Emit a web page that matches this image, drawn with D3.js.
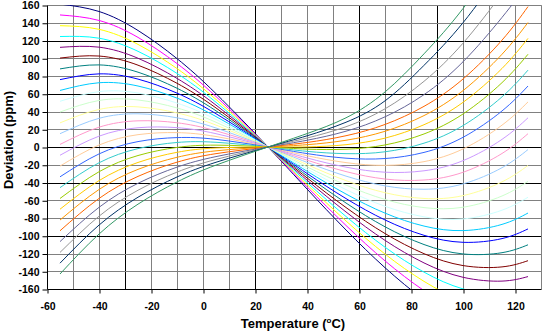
<!DOCTYPE html>
<html>
<head>
<meta charset="utf-8">
<script src="https://cdn.jsdelivr.net/npm/d3@7"></script>
<style>
  html, body { margin: 0; padding: 0; background: #ffffff; }
  svg { display: block; }
  text { font-family: "Liberation Sans", Arial, sans-serif; }
</style>
</head>
<body>
<svg id="chart" width="546" height="333"></svg>
<script>
// ---- data ----
const temperatures = [-55, -40, -25, -10, 5, 25, 40, 55, 70, 85, 100, 115, 125];

const series01 = [161.0, 152.7, 131.3, 99.6, 60.1, 0, -47.3, -93.5, -136.0, -172.1, -199.3, -214.9, -217.6];
const series02 = [148.8, 142.6, 123.5, 94.0, 56.9, 0, -44.8, -88.4, -128.3, -161.8, -186.2, -199.0, -199.7];
const series03 = [136.7, 132.6, 115.6, 88.4, 53.6, 0, -42.3, -83.3, -120.6, -151.4, -173.1, -183.0, -181.8];
const series04 = [124.5, 122.6, 107.8, 82.9, 50.4, 0, -39.8, -78.3, -112.9, -141.0, -159.9, -167.0, -163.9];
const series05 = [112.3, 112.5, 100.0, 77.3, 47.2, 0, -37.3, -73.2, -105.2, -130.6, -146.8, -151.1, -146.0];
const series06 = [100.2, 102.5, 92.2, 71.8, 44.0, 0, -34.8, -68.2, -97.5, -120.2, -133.6, -135.1, -128.1];
const series07 = [88.0, 92.5, 84.3, 66.2, 40.8, 0, -32.3, -63.1, -89.9, -109.9, -120.5, -119.1, -110.2];
const series08 = [75.9, 82.4, 76.5, 60.7, 37.5, 0, -29.8, -58.1, -82.2, -99.5, -107.4, -103.2, -92.3];
const series09 = [63.7, 72.4, 68.7, 55.1, 34.3, 0, -27.3, -53.0, -74.5, -89.1, -94.2, -87.2, -74.4];
const series10 = [51.5, 62.4, 60.8, 49.5, 31.1, 0, -24.8, -48.0, -66.8, -78.7, -81.1, -71.2, -56.6];
const series11 = [39.4, 52.4, 53.0, 44.0, 27.9, 0, -22.3, -42.9, -59.1, -68.3, -67.9, -55.2, -38.7];
const series12 = [27.2, 42.3, 45.2, 38.4, 24.7, 0, -19.8, -37.9, -51.5, -58.0, -54.8, -39.3, -20.8];
const series13 = [15.0, 32.3, 37.4, 32.9, 21.4, 0, -17.3, -32.8, -43.8, -47.6, -41.6, -23.3, -2.9];
const series14 = [2.9, 22.3, 29.5, 27.3, 18.2, 0, -14.8, -27.7, -36.1, -37.2, -28.5, -7.3, 15.0];
const series15 = [-9.3, 12.2, 21.7, 21.8, 15.0, 0, -12.3, -22.7, -28.4, -26.8, -15.4, 8.6, 32.9];
const series16 = [-21.5, 2.2, 13.9, 16.2, 11.8, 0, -9.8, -17.6, -20.7, -16.5, -2.2, 24.6, 50.8];
const series17 = [-33.6, -7.8, 6.1, 10.6, 8.6, 0, -7.4, -12.6, -13.0, -6.1, 10.9, 40.6, 68.7];
const series18 = [-45.8, -17.8, -1.8, 5.1, 5.3, 0, -4.9, -7.5, -5.4, 4.3, 24.1, 56.5, 86.6];
const series19 = [-58.0, -27.9, -9.6, -0.5, 2.1, 0, -2.4, -2.5, 2.3, 14.7, 37.2, 72.5, 104.5];
const series20 = [-70.1, -37.9, -17.4, -6.0, -1.1, 0, 0.1, 2.6, 10.0, 25.1, 50.3, 88.5, 122.4];
const series21 = [-82.3, -47.9, -25.2, -11.6, -4.3, 0, 2.6, 7.6, 17.7, 35.4, 63.5, 104.5, 140.3];
const series22 = [-94.4, -58.0, -33.1, -17.1, -7.5, 0, 5.1, 12.7, 25.4, 45.8, 76.6, 120.4, 158.2];
const series23 = [-106.6, -68.0, -40.9, -22.7, -10.8, 0, 7.6, 17.8, 34.0, 59.0, 96.0, 146.0, 184.0];
const series24 = [-118.8, -78.0, -48.7, -28.3, -14.0, 0, 10.1, 22.8, 43.0, 74.0, 117.0, 173.0, 215.0];
const series25 = [-130.9, -88.0, -56.6, -33.8, -17.2, 0, 12.6, 27.9, 52.0, 92.0, 140.0, 200.0, 245.0];
const series26 = [-143.1, -98.1, -64.4, -39.4, -20.4, 0, 15.1, 32.9, 62.0, 105.0, 156.0, 220.0, 270.0];

const xTicks = [-60, -40, -20, 0, 20, 40, 60, 80, 100, 120];
const yTicks = [-160, -140, -120, -100, -80, -60, -40, -20, 0, 20, 40, 60, 80, 100, 120, 140, 160];
const xGrid = [-50, -40, -30, -20, -10, 0, 10, 20, 30, 40, 50, 60, 70, 80, 90, 100, 110, 120, 130];
const yGrid = [-140, -120, -100, -80, -60, -40, -20, 0, 20, 40, 60, 80, 100, 120, 140, 160];
const xDarkGrid = [-30, 20, 60, 90];
const yDarkGrid = [-100, -40, 0, 60, 120];
const xTitle = "Temperature (";
const yTitle = "Deviation (ppm)";

// ---- styles ----
const seriesColors = ["#000080","#FF00FF","#FFFF00","#00FFFF","#800080","#800000","#008080","#0000FF",
  "#00CCFF","#CCFFFF","#CCFFCC","#FFFF99","#99CCFF","#FF99CC","#CC99FF","#FFCC99","#3366FF","#33CCCC",
  "#99CC00","#FFCC00","#FF9900","#FF6600","#666699","#969696","#003366","#339966"];

const allSeries = [series01, series02, series03, series04, series05, series06, series07, series08,
  series09, series10, series11, series12, series13, series14, series15, series16, series17, series18,
  series19, series20, series21, series22, series23, series24, series25, series26];

// ---- layout ----
const svg = d3.select("#chart");
const plotLeft = 47, plotRight = 541, plotTop = 5, plotBottom = 289;

const x = d3.scaleLinear().domain([-60, 130]).range([plotLeft, plotRight]);
const y = d3.scaleLinear().domain([-160, 160]).range([plotBottom, plotTop]);
const px = v => Math.round(x(v)) + 0.5;
const py = v => Math.round(y(v)) + 0.5;

svg.append("rect").attr("x", plotLeft).attr("y", plotTop)
  .attr("width", plotRight - plotLeft).attr("height", plotBottom - plotTop).attr("fill", "#ffffff");

// gridlines
const grid = svg.append("g");
grid.selectAll("line.vg").data(xGrid).join("line")
  .attr("x1", d => px(d)).attr("x2", d => px(d))
  .attr("y1", py(160)).attr("y2", py(-160))
  .attr("stroke", d => xDarkGrid.includes(d) ? "#000000" : "#808080")
  .attr("stroke-width", 1);
grid.selectAll("line.hg").data(yGrid).join("line")
  .attr("x1", px(-60)).attr("x2", px(130))
  .attr("y1", d => py(d)).attr("y2", d => py(d))
  .attr("stroke", d => yDarkGrid.includes(d) ? "#000000" : "#808080")
  .attr("stroke-width", 1);

// curves
svg.append("clipPath").attr("id", "plotclip").append("rect")
  .attr("x", plotLeft).attr("y", plotTop)
  .attr("width", plotRight - plotLeft).attr("height", plotBottom - plotTop);

const line = d3.line()
  .x((d, i) => x(temperatures[i]))
  .y(d => y(d))
  .curve(d3.curveNatural);

svg.append("g").attr("clip-path", "url(#plotclip)")
  .selectAll("path").data(allSeries).join("path")
  .attr("d", d => line(d))
  .attr("fill", "none")
  .attr("stroke", (d, i) => seriesColors[i])
  .attr("stroke-width", 1);

// axes
const fmt = d => String(d);
const xAxis = d3.axisBottom(x).tickValues(xTicks).tickFormat(fmt).tickSize(4).tickSizeOuter(0).tickPadding(9);
const yAxis = d3.axisLeft(y).tickValues(yTicks).tickFormat(fmt).tickSize(5).tickSizeOuter(0).tickPadding(3);

const gx = svg.append("g").attr("transform", `translate(0.5,${plotBottom + 0.5})`).call(xAxis);
const gy = svg.append("g").attr("transform", `translate(${plotLeft + 0.5},0.5)`).call(yAxis);

[gx, gy].forEach(g => {
  g.select(".domain").attr("stroke", "#000000").attr("stroke-width", 1);
  g.selectAll(".tick line").attr("stroke", "#000000");
  g.selectAll(".tick text")
    .attr("fill", "#000000")
    .style("font-family", "'Liberation Sans', Arial, sans-serif")
    .style("font-size", "10.5px")
    .style("font-weight", "bold");
});
gx.select(".domain").attr("d", `M${plotLeft},0H${plotRight}`);
gy.select(".domain").attr("d", `M0,${plotTop}V${plotBottom}`);

// right border
svg.append("line").attr("x1", px(130)).attr("x2", px(130)).attr("y1", py(160)).attr("y2", py(-160)).attr("stroke", "#808080");

// titles
const xt = svg.append("text")
  .attr("x", 293).attr("y", 328)
  .attr("text-anchor", "middle")
  .style("font-size", "13px").style("font-weight", "bold").attr("fill", "#000000");
xt.append("tspan").text(xTitle);
xt.append("tspan").text("o").attr("dy", -5).style("font-size", "8px");
xt.append("tspan").text("C)").attr("dy", 5);

svg.append("text")
  .attr("transform", "translate(13,140) rotate(-90)")
  .attr("text-anchor", "middle")
  .style("font-size", "13px").style("font-weight", "bold").attr("fill", "#000000")
  .text(yTitle);
</script>
</body>
</html>
